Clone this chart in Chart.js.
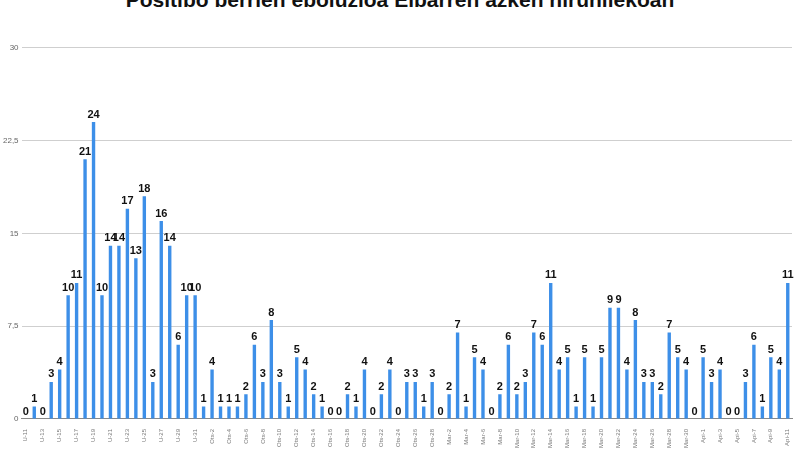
<!DOCTYPE html>
<html>
<head>
<meta charset="utf-8">
<script src="https://cdn.jsdelivr.net/npm/chart.js@4"></script>
<style>
  body { margin: 0; background: #fff; overflow: hidden; }
  #wrap { width: 800px; height: 450px; position: relative; overflow: hidden; }
  h1 { position: absolute; top: -12px; left: 0; width: 800px; margin: 0; text-align: center;
       font: bold 21px "Liberation Sans", Arial, sans-serif; color: #111; }
  #c { position: absolute; top: 40px; left: 0; }
</style>
</head>
<body>
<div id="wrap">
  <h1>Positibo berrien eboluzioa Elbarren azken hiruhilekoan</h1>
  <canvas id="c" width="800" height="410"></canvas>
</div>
<script>
// new positive cases per day
const values = [0,1,0,3,4,10,11,21,24,10,14,14,17,13,18,3,16,14,6,10,
  10,1,4,1,1,1,2,6,3,8,3,1,5,4,2,1,0,0,2,1,
  4,0,2,4,0,3,3,1,3,0,2,7,1,5,4,0,2,6,2,3,
  7,6,11,4,5,1,5,1,5,9,9,4,8,3,3,2,7,5,4,0,
  5,3,4,0,0,3,6,1,5,4,11];
const yTicks = [0, 7.5, 15, 22.5, 30];
const months = ["U", "Ots", "Mar", "Api"];
const monthDays = [31, 28, 31, 30];

// day labels starting on 11 January
const labels = [];
let m = 0, d = 11;
for (let i = 0; i < values.length; i++) {
  labels.push(months[m] + "-" + d);
  d++;
  if (d > monthDays[m]) { d = 1; m++; }
}

const barColors = values.map((v, i) => i === 0 ? "#f2a900" : "#3d8fe8");

// draws the number above every bar
const valueLabels = {
  id: "valueLabels",
  afterDatasetsDraw(chart) {
    const ctx = chart.ctx;
    ctx.save();
    ctx.font = "bold 11px 'Liberation Sans', Arial, sans-serif";
    ctx.fillStyle = "#111";
    ctx.textAlign = "center";
    ctx.textBaseline = "bottom";
    chart.getDatasetMeta(0).data.forEach((bar, i) => {
      ctx.fillText(values[i], bar.x, bar.y - 2);
    });
    ctx.restore();
  }
};

new Chart(document.getElementById("c"), {
  type: "bar",
  data: {
    labels: labels,
    datasets: [{
      data: values,
      backgroundColor: barColors,
      barPercentage: 0.4,
      categoryPercentage: 1
    }]
  },
  options: {
    responsive: false,
    animation: false,
    layout: { padding: { right: 8, top: 2 } },
    plugins: { legend: { display: false }, tooltip: { enabled: false } },
    scales: {
      y: {
        min: 0, max: 30,
        afterBuildTicks: (axis) => { axis.ticks = yTicks.map(v => ({ value: v })); },
        ticks: {
          color: "#666",
          font: { size: 8 },
          callback: (v) => String(v).replace(".", ",")
        },
        grid: { color: "#cfcfcf", drawTicks: false },
        border: { display: false }
      },
      x: {
        grid: { display: false },
        border: { color: "#888" },
        ticks: {
          autoSkip: false,
          maxRotation: 90, minRotation: 90,
          color: "#777",
          font: { size: 6 },
          padding: 2,
          callback: function (v, i) { return i % 2 === 0 ? labels[i] : ""; }
        }
      }
    }
  },
  plugins: [valueLabels]
});
</script>
</body>
</html>
